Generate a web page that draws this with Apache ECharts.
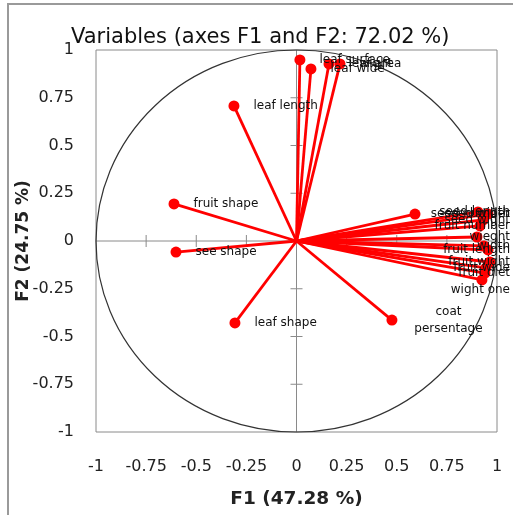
<!DOCTYPE html>
<html>
<head>
<meta charset="utf-8">
<script src="https://cdn.jsdelivr.net/npm/echarts@6/dist/echarts.min.js"></script>
<style>
html,body{margin:0;padding:0;background:#fff;}
#chart{width:513px;height:515px;}
</style>
</head>
<body>
<div id="chart"></div>
<script>
// ---- data ----
var varNames = [
  'leaf surface','leaf wide','leaf area','wight',
  'leaf length','fruit shape','see shape','leaf shape','coat\npersentage',
  'seed number',
  'seed length','seed width','seed wight','fruit number','wieght','width',
  'fruit length','fruit wight','fruit wide','fruit diet','wight one'
];
var f1 = [
  0.017, 0.072, 0.162, 0.217,
  -0.312, -0.611, -0.601, -0.307, 0.476,
  0.591,
  0.905, 0.955, 0.930, 0.915, 0.900, 0.935,
  0.955, 0.965, 0.945, 0.940, 0.925
];
var f2 = [
  0.948, 0.901, 0.927, 0.927,
  0.707, 0.194, -0.058, -0.429, -0.414,
  0.141,
  0.152, 0.141, 0.110, 0.079, 0.021, -0.026,
  -0.047, -0.110, -0.141, -0.168, -0.204
];
var tickValues = [-1, -0.75, -0.5, -0.25, 0, 0.25, 0.5, 0.75, 1];
var titleText = 'Variables (axes F1 and F2: 72.02 %)';
var xName = 'F1 (47.28 %)';
var yName = 'F2 (24.75 %)';

// ---- label placement tweaks (style only) ----
var labelTweaks = {
  'leaf surface': {offset: [2, 0]},
  'leaf area': {offset: [0, -7]},
  'wight': {offset: [0, 9]},
  'coat\npersentage': {position: [62, 6], align: 'center', verticalAlign: 'middle', lineHeight: 17},
  'wight one': {position: 'bottom', distance: -2}
};

var FONT = 'DejaVu Sans';
var chart = echarts.init(document.getElementById('chart'), null, {renderer: 'canvas'});

var pts = varNames.map(function (n, i) {
  var item = {name: n, value: [f1[i], f2[i]]};
  if (labelTweaks[n]) item.label = labelTweaks[n];
  return item;
});

var option = {
  animation: false,
  backgroundColor: '#fff',
  title: {
    text: titleText,
    left: 71, top: 27, padding: 0,
    textStyle: {fontFamily: FONT, fontSize: 21, fontWeight: 'normal', color: '#111'}
  },
  graphic: [{
    type: 'polyline',
    shape: {points: [[8, 520], [8, 4], [520, 4]]},
    style: {stroke: '#9a9a9a', lineWidth: 2, fill: null},
    silent: true
  }],
  grid: {left: 96, top: 50, right: 16, bottom: 83, show: true,
         outerBoundsMode: 'none', containLabel: false,
         borderColor: '#8a8a8a', borderWidth: 1, backgroundColor: 'transparent'},
  xAxis: {
    type: 'value', min: -1, max: 1, interval: 0.25,
    axisLine: {show: false}, axisTick: {show: false}, splitLine: {show: false},
    axisLabel: {margin: 27, fontFamily: FONT, fontSize: 16, color: '#222'},
    name: xName, nameLocation: 'middle', nameGap: 58, nameMoveOverlap: false,
    nameTextStyle: {fontFamily: FONT, fontSize: 18.5, fontWeight: 'bold', color: '#222'}
  },
  yAxis: {
    type: 'value', min: -1, max: 1, interval: 0.25,
    axisLine: {show: false}, axisTick: {show: false}, splitLine: {show: false},
    axisLabel: {margin: 22, fontFamily: FONT, fontSize: 16, color: '#222'},
    name: yName, nameLocation: 'middle', nameGap: 64, nameMoveOverlap: false,
    nameTextStyle: {fontFamily: FONT, fontSize: 17, fontWeight: 'bold', color: '#222'}
  },
  series: [
    {
      type: 'custom',
      silent: true,
      clip: false,
      data: [0],
      z: 1,
      renderItem: function (params, api) {
        var c = api.coord([0, 0]);
        var r = api.size([1, 1]);
        var rx = r[0], ry = r[1];
        var children = [];
        var xl = api.coord([tickValues[0], 0]), xr = api.coord([tickValues[tickValues.length - 1], 0]);
        var yb = api.coord([0, tickValues[0]]), yt = api.coord([0, tickValues[tickValues.length - 1]]);
        children.push({type: 'line', shape: {x1: xl[0], y1: xl[1], x2: xr[0], y2: xr[1]},
          style: {stroke: '#8a8a8a', lineWidth: 1}});
        children.push({type: 'line', shape: {x1: yb[0], y1: yb[1], x2: yt[0], y2: yt[1]},
          style: {stroke: '#8a8a8a', lineWidth: 1}});
        tickValues.forEach(function (v) {
          if (v === 0 || Math.abs(v) === 1) return;
          var p = api.coord([v, 0]);
          children.push({type: 'line', shape: {x1: p[0], y1: p[1] - 6, x2: p[0], y2: p[1] + 6},
            style: {stroke: '#8a8a8a', lineWidth: 1}});
          var q = api.coord([0, v]);
          children.push({type: 'line', shape: {x1: q[0] - 6, y1: q[1], x2: q[0] + 6, y2: q[1]},
            style: {stroke: '#8a8a8a', lineWidth: 1}});
        });
        var d = 'M ' + (c[0] - rx) + ' ' + c[1] +
          ' A ' + rx + ' ' + ry + ' 0 1 0 ' + (c[0] + rx) + ' ' + c[1] +
          ' A ' + rx + ' ' + ry + ' 0 1 0 ' + (c[0] - rx) + ' ' + c[1] + ' Z';
        children.push({type: 'path', shape: {pathData: d},
          style: {stroke: '#333', lineWidth: 1.2, fill: null}});
        return {type: 'group', children: children};
      }
    },
    {
      type: 'custom',
      silent: true,
      z: 2,
      data: pts.map(function (p) { return p.value; }),
      renderItem: function (params, api) {
        var o = api.coord([0, 0]);
        var p = api.coord([api.value(0), api.value(1)]);
        return {type: 'line', shape: {x1: o[0], y1: o[1], x2: p[0], y2: p[1]},
          style: {stroke: '#ff0000', lineWidth: 2.8}};
      }
    },
    {
      type: 'scatter',
      z: 3,
      symbolSize: 11,
      itemStyle: {color: '#ff0000', opacity: 1},
      data: pts,
      label: {
        show: true, position: 'right', distance: 14,
        formatter: '{b}',
        fontFamily: FONT, fontSize: 12, color: '#111'
      },
      labelLayout: function (p) {
        var r = p.labelRect;
        var edge = 510;
        if (r.x + r.width > edge) return {dx: edge - (r.x + r.width)};
        return {};
      }
    }
  ]
};
chart.setOption(option);
</script>
</body>
</html>
